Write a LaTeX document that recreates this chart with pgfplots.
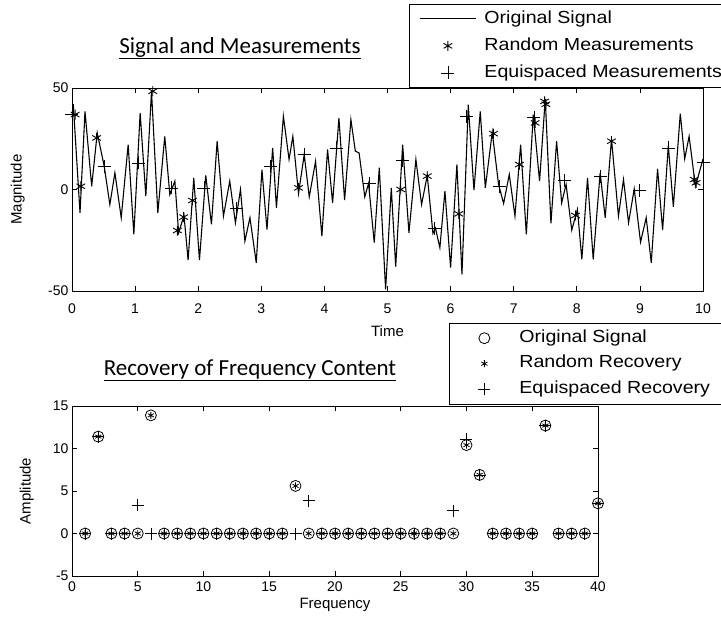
\documentclass[border=0pt]{standalone}
\usepackage{fontspec}
\setmainfont{Liberation Sans}
\newfontfamily\calibri{Carlito}
\newfontfamily\legfont{Liberation Sans}[FakeStretch=1.12]
\usepackage{pgfplots}
\pgfplotsset{compat=1.18}

\pgfplotsset{
  matlab/.style={
    scale only axis,
    axis line style={line width=0.9pt},
    tick style={line width=0.8pt, black},
    major tick length=5pt,
    tick align=inside,
    tick label style={font=\fontsize{14}{16}\selectfont},
    label style={font=\fontsize{15}{17}\selectfont},
    /pgf/number format/assume math mode=true,
    legend cell align=left,
  },
  % legend samples: an invisible path sets the width, the mark sits inside it
  legline/.style={legend image code/.code={\draw[##1] (0pt,0pt) -- (56pt,0pt);}},
  legtop/.style={legend image code/.code={\path[draw=none,fill=none] (0pt,0pt) (56pt,0pt); \draw[##1] plot coordinates {(28pt,0pt)};}},
  legbot/.style={legend image code/.code={\path[draw=none,fill=none] (0pt,0pt) (54pt,0pt); \draw[##1] plot coordinates {(27pt,0pt)};}},
}

\begin{document}
\begin{tikzpicture}[x=1pt,y=1pt]
\path[use as bounding box] (0,0) rectangle (721,625);

% top panel
\begin{axis}[matlab,
  at={(72pt,334pt)}, anchor=south west, width=631pt, height=203pt,
  xmin=0, xmax=10, ymin=-50, ymax=50,
  xtick={0,...,10}, ytick={-50,0,50},
  xlabel={Time}, ylabel={Magnitude},
  xlabel style={at={(axis description cs:0.5,-0.2)}, anchor=center},
  ylabel style={at={(axis description cs:-0.086,0.5)}, anchor=center},
  xticklabel style={yshift=-9pt},
  legend style={at={(axis description cs:0.534,1.414)}, anchor=north west,
    draw=black, line width=0.8pt, fill=white,
    font=\legfont\fontsize{17.5}{20}\selectfont,
    inner xsep=10pt, inner ysep=1pt,
    nodes={inner xsep=3pt, inner ysep=4pt, text height=14pt, text depth=5pt},
    /tikz/every odd column/.append style={column sep=5pt},
    row sep=0pt},
]
\addplot[black, line width=1.1pt, legline] coordinates {
(0,36) (0.02,42) (0.127,-11.5) (0.206,38.5) (0.312,1.6) (0.40,27.9) (0.51,11.5) (0.60,-7.4)
(0.68,8.2) (0.78,-13.9) (0.89,22.1) (0.98,-22.1) (1.08,37.7) (1.17,-3.3) (1.26,48.4)
(1.36,-11.5) (1.47,26.2) (1.55,-2.5) (1.63,4.1) (1.69,-21.3) (1.775,-12.8) (1.84,-34.8)
(1.93,5.7) (2.02,-34.8) (2.12,6.9) (2.21,-17.2) (2.30,23.8) (2.40,-13.1) (2.50,4.1)
(2.59,-16.4) (2.67,0) (2.74,-25.4) (2.82,-13.9) (2.92,-36.1) (3.01,9.8) (3.09,-19.7)
(3.18,20.5) (3.24,-9.0) (3.35,36.1) (3.44,14.8) (3.50,26.2) (3.59,-2.0) (3.68,17.2)
(3.76,-3.6) (3.86,13.9) (3.96,-23.0) (4.05,19.7) (4.13,-6.6) (4.23,35.2) (4.32,-5.2)
(4.42,34.4) (4.49,18.9) (4.55,18) (4.64,-3.6) (4.70,3.0) (4.79,-26.2) (4.87,10.7)
(4.97,-49.2) (5.06,0.8) (5.13,-38.0) (5.24,22.1) (5.34,-21.3) (5.45,14.8) (5.54,-7.4)
(5.63,6.9) (5.72,-21.6) (5.76,-19) (5.83,-28.7) (5.91,-0.8) (6.00,-38.5) (6.10,12.3)
(6.18,-41.8) (6.28,41.8) (6.37,-0.3) (6.47,38.5) (6.55,0.8) (6.66,28.2) (6.76,2.5)
(6.84,-6.9) (6.93,7.4) (7.02,-13.1) (7.11,22.1) (7.20,-22.1) (7.31,36.9) (7.41,4.1)
(7.50,44.6) (7.59,-16.7) (7.68,23.8) (7.76,-6.6) (7.83,2.5) (7.92,-20.0) (8.01,-9.8)
(8.08,-34.4) (8.17,5.7) (8.26,-34.4) (8.37,8.2) (8.45,-13.9) (8.55,24.9) (8.66,-13.1)
(8.74,4.9) (8.82,-16.4) (8.91,0.3) (9.01,-25.9) (9.10,-13.9) (9.18,-36.1) (9.28,10.2)
(9.36,-20.0) (9.45,21.6) (9.53,-8.5) (9.64,37.4) (9.71,15.1) (9.78,26.2) (9.88,1.6) (10,15)
};
\addlegendentry{Original Signal}
\addplot[only marks, legtop, mark=asterisk, mark size=5pt, black, mark options={line width=0.9pt}] coordinates {
(0.05,36.9) (0.14,1.6) (0.39,25.4) (1.28,48.4) (1.67,-20.2) (1.77,-13.6) (1.91,-5.4)
(3.59,0.8) (5.21,0) (5.63,6.6) (6.13,-12) (6.68,27.5) (7.09,12.3) (7.34,32.8)
(7.49,43.4) (7.51,42) (7.98,-12.8) (8.55,23.8) (9.86,4.9) (9.89,3.3)
};
\addlegendentry{Random Measurements}
\addplot[only marks, legtop, mark=+, mark size=6.5pt, black, mark options={line width=0.7pt}] coordinates {
(0,37) (0.51,11.5) (1.05,13.1) (1.58,0.8) (2.09,0.8) (2.61,-9.5) (3.15,11.2) (3.68,17.2)
(4.19,20.5) (4.71,3.0) (5.23,14.4) (5.75,-19.3) (6.25,36.1) (6.78,1.6) (7.32,35.6)
(7.80,4.6) (8.37,6.6) (8.99,-0.3) (9.45,20.5) (10,13.4)
};
\addlegendentry{Equispaced Measurements}
\end{axis}

% bottom panel
\begin{axis}[matlab,
  at={(72pt,49pt)}, anchor=south west, width=526pt, height=170pt,
  xmin=0, xmax=40, ymin=-5, ymax=15,
  xtick={0,5,...,40}, ytick={-5,0,5,10,15},
  xlabel={Frequency}, ylabel={Amplitude},
  xlabel style={at={(axis description cs:0.5,-0.171)}, anchor=center},
  ylabel style={at={(axis description cs:-0.086,0.5)}, anchor=center},
  xticklabel style={yshift=-2pt},
  legend style={at={(axis description cs:0.7167,1.488)}, anchor=north west,
    draw=black, line width=0.8pt, fill=white,
    font=\legfont\fontsize{17.5}{20}\selectfont,
    inner xsep=8pt, inner ysep=2pt,
    nodes={inner xsep=3pt, inner ysep=3.5pt, text height=13.5pt, text depth=5pt},
    /tikz/every odd column/.append style={column sep=5pt},
    row sep=0pt},
]
\addplot[only marks, legbot, mark=o, mark size=5.5pt, black, mark options={line width=0.8pt}] coordinates {
(1,0) (2,11.4) (3,0) (4,0) (5,0) (6,13.9) (7,0) (8,0) (9,0) (10,0) (11,0) (12,0) (13,0)
(14,0) (15,0) (16,0) (17,5.6) (18,0) (19,0) (20,0) (21,0) (22,0) (23,0) (24,0) (25,0)
(26,0) (27,0) (28,0) (29,0) (30,10.4) (31,6.9) (32,0) (33,0) (34,0) (35,0) (36,12.7)
(37,0) (38,0) (39,0) (40,3.55)
};
\addlegendentry{Original Signal}
\addplot[only marks, legbot, mark=asterisk, mark size=3.5pt, black, mark options={line width=0.8pt}] coordinates {
(1,0) (2,11.4) (3,0) (4,0) (5,0) (6,13.9) (7,0) (8,0) (9,0) (10,0) (11,0) (12,0) (13,0)
(14,0) (15,0) (16,0) (17,5.6) (18,0) (19,0) (20,0) (21,0) (22,0) (23,0) (24,0) (25,0)
(26,0) (27,0) (28,0) (29,0) (30,10.4) (31,6.9) (32,0) (33,0) (34,0) (35,0) (36,12.7)
(37,0) (38,0) (39,0) (40,3.55)
};
\addlegendentry{Random Recovery}
\addplot[only marks, legbot, mark=+, mark size=6pt, black, mark options={line width=0.7pt}] coordinates {
(1,0) (2,11.4) (3,0) (4,0) (5,3.3) (6,0) (7,0) (8,0) (9,0) (10,0) (11,0) (12,0) (13,0)
(14,0) (15,0) (16,0) (17,0) (18,3.85) (19,0) (20,0) (21,0) (22,0) (23,0) (24,0) (25,0)
(26,0) (27,0) (28,0) (29,2.7) (30,11.1) (31,6.9) (32,0) (33,0) (34,0) (35,0) (36,12.7)
(37,0) (38,0) (39,0) (40,3.55)
};
\addlegendentry{Equispaced Recovery}
\end{axis}

\node[font=\calibri\fontsize{23}{26}\selectfont] at (240,577) {\underline{Signal and Measurements}};
\node[font=\calibri\fontsize{23}{26}\selectfont] at (250,255) {\underline{Recovery of Frequency Content}};
\end{tikzpicture}
\end{document}
